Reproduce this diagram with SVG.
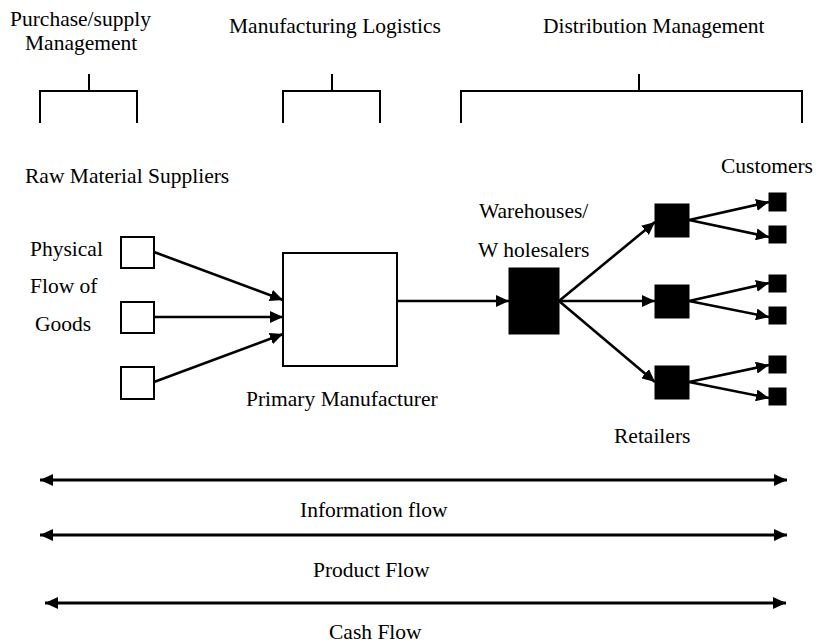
<svg xmlns="http://www.w3.org/2000/svg" width="817" height="644" viewBox="0 0 817 644">
<style>
text{font-family:"Liberation Serif","Times New Roman",serif;font-size:21.5px;fill:#000}
.br{fill:none;stroke:#000;stroke-width:2}
.box{fill:#fff;stroke:#000;stroke-width:2}
.blk{fill:#000;stroke:#000;stroke-width:1}
.c{fill:none;stroke:#000;stroke-width:2.6}
.f{fill:none;stroke:#000;stroke-width:2.8}
</style>
<defs>
<marker id="ah" markerUnits="userSpaceOnUse" markerWidth="14" markerHeight="12" viewBox="0 0 14 12" refX="13" refY="6" orient="auto">
<path d="M0,0 L13,6 L0,12 Z" fill="#000"/>
</marker>
<marker id="ahs" markerUnits="userSpaceOnUse" markerWidth="14" markerHeight="12" viewBox="0 0 14 12" refX="1" refY="6" orient="auto">
<path d="M14,0 L1,6 L14,12 Z" fill="#000"/>
</marker>
</defs>
<rect width="817" height="644" fill="#fff"/>

<g id="header-purchase">
<text x="10" y="26">Purchase/supply</text>
<text x="25" y="50">Management</text>
<path class="br" d="M89,74 V91 M40,123 V91 H137 V123"/>
</g>
<g id="header-manufacturing">
<text x="229" y="33">Manufacturing Logistics</text>
<path class="br" d="M332,74 V91 M283,123 V91 H380 V123"/>
</g>
<g id="header-distribution">
<text x="543" y="33">Distribution Management</text>
<path class="br" d="M639,74 V91 M461,123 V91 H802 V123"/>
</g>

<g id="suppliers">
<text x="25" y="183">Raw Material Suppliers</text>
<text x="30" y="256">Physical</text>
<text x="30" y="293">Flow of</text>
<text x="35" y="331">Goods</text>
<rect class="box" x="121" y="237" width="33" height="31"/>
<rect class="box" x="121" y="302" width="33" height="31"/>
<rect class="box" x="121" y="367" width="33" height="32"/>
</g>

<g id="manufacturer">
<rect class="box" x="283" y="253" width="114" height="113"/>
<text x="246" y="406">Primary Manufacturer</text>
</g>

<g id="warehouse">
<text x="479" y="218">Warehouses/</text>
<text x="478" y="257">W holesalers</text>
<rect class="blk" x="509" y="268" width="50" height="66"/>
</g>

<g id="retailers">
<rect class="blk" x="655" y="204" width="34" height="33"/>
<rect class="blk" x="655" y="285" width="34" height="33"/>
<rect class="blk" x="655" y="366" width="34" height="33"/>
<text x="614" y="443">Retailers</text>
</g>

<g id="customers">
<text x="721" y="173">Customers</text>
<rect class="blk" x="769" y="193" width="17" height="18"/>
<rect class="blk" x="769" y="226" width="17" height="17"/>
<rect class="blk" x="769" y="275" width="17" height="17"/>
<rect class="blk" x="769" y="307" width="17" height="17"/>
<rect class="blk" x="769" y="356" width="17" height="17"/>
<rect class="blk" x="769" y="388" width="17" height="17"/>
</g>

<g id="connectors">
<line class="c" x1="154" y1="252" x2="283" y2="300" marker-end="url(#ah)"/>
<line class="c" x1="154" y1="317" x2="283" y2="317" marker-end="url(#ah)"/>
<line class="c" x1="154" y1="382" x2="283" y2="334" marker-end="url(#ah)"/>
<line class="c" x1="397" y1="301" x2="509" y2="301" marker-end="url(#ah)"/>
<line class="c" x1="559" y1="301" x2="655" y2="222" marker-end="url(#ah)"/>
<line class="c" x1="559" y1="301" x2="655" y2="301" marker-end="url(#ah)"/>
<line class="c" x1="559" y1="301" x2="655" y2="382" marker-end="url(#ah)"/>
<line class="c" x1="689" y1="220" x2="769" y2="202" marker-end="url(#ah)"/>
<line class="c" x1="689" y1="220" x2="769" y2="237" marker-end="url(#ah)"/>
<line class="c" x1="689" y1="301" x2="769" y2="283" marker-end="url(#ah)"/>
<line class="c" x1="689" y1="301" x2="769" y2="317" marker-end="url(#ah)"/>
<line class="c" x1="689" y1="382" x2="769" y2="365" marker-end="url(#ah)"/>
<line class="c" x1="689" y1="382" x2="769" y2="398" marker-end="url(#ah)"/>
</g>

<g id="flows">
<line class="f" x1="40" y1="480" x2="787" y2="480" marker-start="url(#ahs)" marker-end="url(#ah)"/>
<text x="300" y="517">Information flow</text>
<line class="f" x1="40" y1="535" x2="787" y2="535" marker-start="url(#ahs)" marker-end="url(#ah)"/>
<text x="313" y="577">Product Flow</text>
<line class="f" x1="45" y1="603" x2="786" y2="603" marker-start="url(#ahs)" marker-end="url(#ah)"/>
<text x="329" y="639">Cash Flow</text>
</g>
</svg>
